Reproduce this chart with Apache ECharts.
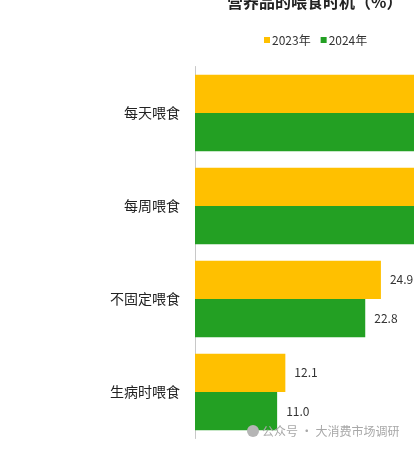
<!DOCTYPE html>
<html>
<head>
<meta charset="utf-8">
<script src="https://cdn.jsdelivr.net/npm/echarts@6/dist/echarts.min.js"></script>
<style>
html,body{margin:0;padding:0;background:#fff;}
#c{width:414px;height:449px;}
</style>
</head>
<body>
<div id="c"></div>
<script>
const categories = ['每天喂食', '每周喂食', '不固定喂食', '生病时喂食'];
const values2023 = [45.0, 38.0, 24.9, 12.1];
const values2024 = [48.0, 35.0, 22.8, 11.0];
const seriesNames = ['2023年', '2024年'];
const titleText = '营养品的喂食时机（%）';
const watermarkText = '公众号 · 大消费市场调研';

const chart = echarts.init(document.getElementById('c'));
const labelCfg = {
  show: true, position: 'right', distance: 9,
  fontSize: 12, color: '#333',
  fontFamily: '"Noto Sans CJK SC", sans-serif',
  formatter: p => p.value.toFixed(1)
};
chart.setOption({
  animation: false,
  backgroundColor: '#fff',
  title: {
    text: titleText, left: 222, top: -11,
    textStyle: { fontSize: 16, fontWeight: 'bold', color: '#222', fontFamily: '"Noto Sans CJK SC", sans-serif' }
  },
  legend: {
    data: seriesNames, left: 259, top: 29,
    icon: 'rect', itemWidth: 6, itemHeight: 6, itemGap: 10,
    textStyle: { fontSize: 12, color: '#333', padding: [0, 0, 0, -3], fontFamily: '"Noto Sans CJK SC", sans-serif' }
  },
  grid: { left: 195, top: 66.5, height: 372, width: 448, containLabel: false, outerBoundsMode: 'none' },
  xAxis: {
    type: 'value', min: 0, max: 60,
    show: false
  },
  yAxis: {
    type: 'category', data: categories, inverse: true,
    axisLine: { show: true, lineStyle: { color: '#c8c8c8', width: 1 } },
    axisTick: { show: false },
    axisLabel: { fontSize: 14, color: '#222', margin: 15, fontFamily: '"Noto Sans CJK SC", sans-serif' }
  },
  series: [
    { name: seriesNames[0], type: 'bar', data: values2023, barGap: '0%', barCategoryGap: '18%',
      itemStyle: { color: '#FFC000' }, label: labelCfg },
    { name: seriesNames[1], type: 'bar', data: values2024, barGap: '0%', barCategoryGap: '18%',
      itemStyle: { color: '#23A023' }, label: labelCfg }
  ],
  graphic: [
    { type: 'circle', shape: { cx: 253, cy: 431, r: 6 }, style: { fill: '#b5b5b5' }, z: 100 },
    { type: 'text', x: 262, y: 431, z: 100,
      style: { text: watermarkText, fill: '#a8a8a8', fontSize: 12, verticalAlign: 'middle',
        fontFamily: '"Noto Sans CJK SC", sans-serif' } }
  ]
});
</script>
</body>
</html>
